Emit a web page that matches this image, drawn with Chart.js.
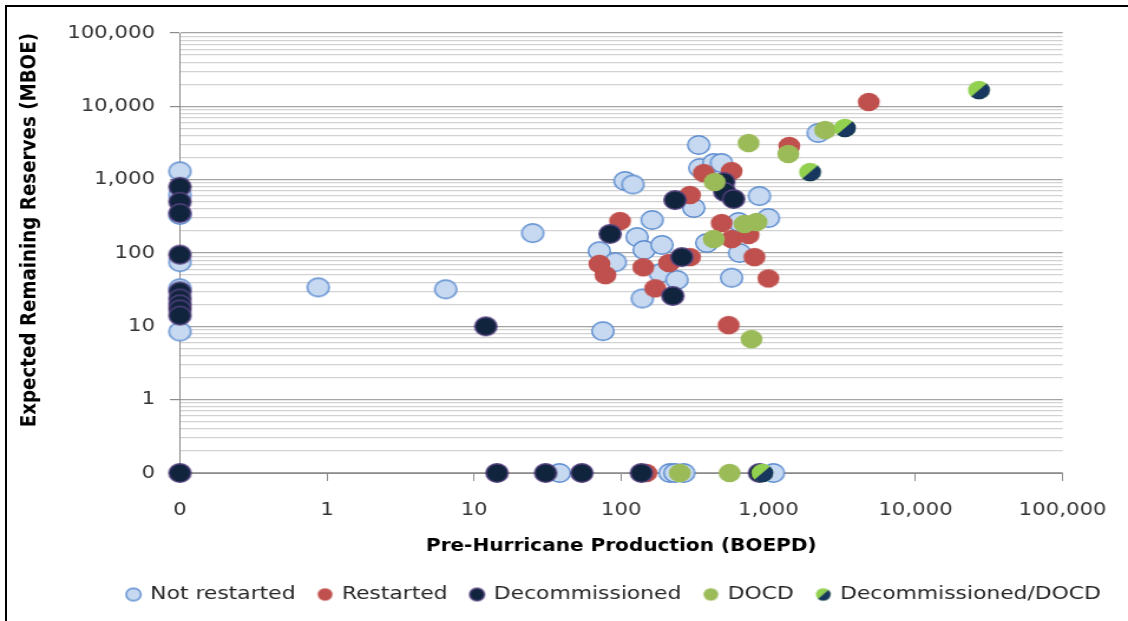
<!DOCTYPE html>
<html>
<head>
<meta charset="utf-8">
<title>Pre-Hurricane Production vs Expected Remaining Reserves</title>
<script src="https://cdn.jsdelivr.net/npm/chart.js@4.4.1/dist/chart.umd.min.js"></script>
<style>
    html, body { margin: 0; padding: 0; background: #ffffff; overflow: hidden; width: 1128px; height: 621px; }
    .frameLine { position: absolute; background: #000; }
    #frameTop { left: 5px; top: 5px; width: 1123px; height: 2px; }
    #frameLeft { left: 5px; top: 5px; width: 2px; height: 616px; }
    #chartScatter { position: absolute; left: 0; top: 0; }
</style>
</head>
<body>
<div id="frameTop" class="frameLine"></div>
<div id="frameLeft" class="frameLine"></div>
<!-- the source picture is stretched sideways: draw 956 wide, show 1128 wide -->
<canvas id="chartScatter" width="956" height="621" style="width:1128px;height:621px"></canvas>
<script>
// Platforms after the hurricanes: production before the storm vs reserves left

var ZERO_AT = 0.1; // a zero value sits here on both log axes (labelled "0")

var seriesNames = ['Not restarted', 'Restarted', 'Decommissioned', 'DOCD', 'Decommissioned/DOCD'];

// Pre-hurricane production (BOEPD) / expected remaining reserves (MBOE)
var notRestartedX = [0, 0, 0, 0, 0, 0, 0.87, 6.4, 25, 75, 71, 91, 106, 120, 128, 139, 143, 162, 184, 189,
    239, 311, 336, 342, 381, 425, 480, 562, 627, 637, 869, 1000, 2180, 38, 214, 232, 266, 1080];
var notRestartedY = [1300, 620, 330, 75, 33, 8.5, 34, 32, 187, 8.6, 106, 75, 960, 860, 165, 24, 110, 282, 53, 129,
    43, 411, 2970, 1440, 137, 1690, 1690, 46, 265, 100, 598, 300, 4330, 0, 0, 0, 0, 0];

var restartedX = [0, 71, 78, 98, 141, 170, 211, 293, 293, 364, 481, 537, 562, 562, 733, 804, 1000, 1387, 4810, 148];
var restartedY = [18, 71, 50, 273, 64, 33, 73, 618, 88, 1230, 256, 10.4, 1310, 155, 176, 88, 45, 2880, 11460, 0];

var decommissionedX = [0, 0, 0, 0, 0, 0, 0, 0, 0, 0, 12, 84, 224, 232, 258, 497, 505, 580, 14.3, 30.6, 54, 137, 870];
var decommissionedY = [800, 500, 350, 95, 30, 24, 20, 17, 14, 0, 10, 182, 26, 528, 88, 930, 680, 546, 0, 0, 0, 0, 0];

var docdX = [425, 431, 689, 733, 767, 830, 1365, 2430, 250, 545];
var docdY = [155, 930, 249, 3160, 6.7, 265, 2240, 4750, 0, 0];

var decomDocdX = [910, 1920, 3310, 27000];
var decomDocdY = [0, 1270, 5070, 16700];

var decadeValues = [0.1, 1, 10, 100, 1000, 10000, 100000];
var decadeLabels = ['0', '1', '10', '100', '1,000', '10,000', '100,000'];

var FONT = "'DejaVu Sans', sans-serif";
var AXIS_COLOR = '#8c8c8c';

// sizes in canvas pixels (canvas is 956 wide, shown 1128 wide)
var PAD_LEFT = 10, PAD_RIGHT = 50.9, PAD_TOP = 33, PAD_BOTTOM = 7.25;
var Y_AXIS_WIDTH = 142.5;
var X_AXIS_HEIGHT = 92.25;
var LEGEND_SHIFT = 63;

// every 1..9 step of each decade gets a horizontal line
var yLineValues = [];
for (var e = -1; e < 5; e++) {
    for (var m = 1; m < 10; m++) {
        yLineValues.push(Number((m * Math.pow(10, e)).toPrecision(3)));
    }
}
yLineValues.push(100000);

function isDecade(v) {
    return decadeValues.indexOf(v) !== -1;
}

function tickLabel(v) {
    var i = decadeValues.indexOf(v);
    return i === -1 ? '' : decadeLabels[i];
}

function toPoints(xs, ys) {
    return xs.map(function (x, i) {
        return { x: x === 0 ? ZERO_AT : x, y: ys[i] === 0 ? ZERO_AT : ys[i] };
    });
}

// round marker drawn on its own canvas; split = [top-left colour, bottom-right colour]
function marker(d, fill, stroke, split) {
    var c = document.createElement('canvas');
    var size = Math.ceil(d + 3);
    c.width = size;
    c.height = size;
    var g = c.getContext('2d');
    var m = size / 2;
    g.beginPath();
    g.arc(m, m, d / 2, 0, Math.PI * 2);
    if (split) {
        g.save();
        g.clip();
        g.fillStyle = split[0];
        g.fillRect(0, 0, size, size);
        g.beginPath();
        g.moveTo(0, size);
        g.lineTo(size, 0);
        g.lineTo(size, size);
        g.closePath();
        g.fillStyle = split[1];
        g.fill();
        g.restore();
    } else {
        g.fillStyle = fill;
        g.fill();
        if (stroke) {
            g.lineWidth = 1.4;
            g.strokeStyle = stroke;
            g.stroke();
        }
    }
    return c;
}

var markerLooks = [
    ['#c6d9f1', '#5b8bcf', null],
    ['#c0504d', null, null],
    ['#10243e', '#54427f', null],
    ['#9bbb59', null, null],
    [null, null, ['#92d050', '#17375e']]
];

var chartMarkers = markerLooks.map(function (l) { return marker(18.6, l[0], l[1], l[2]); });
var legendMarkers = markerLooks.map(function (l) { return marker(12.5, l[0], l[1], l[2]); });

var seriesData = [
    toPoints(notRestartedX, notRestartedY),
    toPoints(restartedX, restartedY),
    toPoints(decommissionedX, decommissionedY),
    toPoints(docdX, docdY),
    toPoints(decomDocdX, decomDocdY)
];

// lower order is drawn on top: split markers above green, navy, red, light blue
var datasets = seriesNames.map(function (name, i) {
    return {
        label: name,
        data: seriesData[i],
        pointStyle: chartMarkers[i],
        pointRadius: 9.3,
        clip: false,
        order: seriesNames.length - 1 - i
    };
});

// move the legend row to where the original had it
var legendShift = {
    id: 'legendShift',
    afterLayout: function (chart) {
        chart.legend.left += LEGEND_SHIFT;
        chart.legend.right += LEGEND_SHIFT;
    }
};

var ctx = document.getElementById('chartScatter').getContext('2d');
var chart = new Chart(ctx, {
    type: 'scatter',
    data: { datasets: datasets },
    options: {
        responsive: false,
        animation: false,
        devicePixelRatio: 1,
        events: [],
        layout: { padding: { left: PAD_LEFT, right: PAD_RIGHT, top: PAD_TOP, bottom: PAD_BOTTOM } },
        scales: {
            x: {
                type: 'logarithmic',
                min: ZERO_AT,
                max: 100000,
                afterBuildTicks: function (scale) {
                    scale.ticks = decadeValues.map(function (v) { return { value: v }; });
                },
                afterFit: function (scale) { scale.height = X_AXIS_HEIGHT; },
                ticks: {
                    autoSkip: false,
                    maxRotation: 0,
                    padding: 18.2,
                    color: '#333333',
                    font: { family: FONT, size: 18 },
                    callback: function (value) { return tickLabel(value); }
                },
                grid: {
                    drawOnChartArea: false,
                    drawTicks: true,
                    tickLength: 8,
                    tickColor: function (c) {
                        return c.tick && c.tick.value === ZERO_AT ? 'rgba(0,0,0,0)' : AXIS_COLOR;
                    }
                },
                border: { color: AXIS_COLOR, width: 1 },
                title: {
                    display: true,
                    text: 'Pre-Hurricane Production (BOEPD)',
                    color: '#000000',
                    font: { family: FONT, size: 17, weight: 'bold' },
                    padding: { top: 0, bottom: 8 }
                }
            },
            y: {
                type: 'logarithmic',
                min: ZERO_AT,
                max: 100000,
                afterBuildTicks: function (scale) {
                    scale.ticks = yLineValues.map(function (v) { return { value: v }; });
                },
                afterFit: function (scale) { scale.width = Y_AXIS_WIDTH; },
                ticks: {
                    autoSkip: false,
                    padding: 12.6,
                    color: '#333333',
                    font: { family: FONT, size: 18 },
                    callback: function (value) { return tickLabel(value); }
                },
                grid: {
                    drawTicks: true,
                    tickLength: 8.5,
                    lineWidth: 1.2,
                    color: function (c) {
                        return c.tick && isDecade(c.tick.value) ? '#a3a3a3' : '#d2d2d2';
                    },
                    tickColor: function (c) {
                        return c.tick && isDecade(c.tick.value) ? AXIS_COLOR : 'rgba(0,0,0,0)';
                    }
                },
                border: { color: AXIS_COLOR, width: 1 },
                title: {
                    display: true,
                    align: 'end',
                    text: 'Expected Remaining Reserves (MBOE)',
                    color: '#000000',
                    font: { family: FONT, size: 18.3, weight: 'bold' },
                    padding: { top: 3.8, bottom: 0 }
                }
            }
        },
        plugins: {
            tooltip: { enabled: false },
            legend: {
                position: 'bottom',
                labels: {
                    usePointStyle: true,
                    pointStyleWidth: 10,
                    padding: 20,
                    color: '#262626',
                    font: { family: FONT, size: 18.5 },
                    generateLabels: function (chart) {
                        var items = Chart.defaults.plugins.legend.labels.generateLabels(chart);
                        items.forEach(function (it) { it.pointStyle = legendMarkers[it.datasetIndex]; });
                        return items.sort(function (a, b) { return a.datasetIndex - b.datasetIndex; });
                    }
                }
            }
        }
    },
    plugins: [legendShift]
});
</script>
</body>
</html>
